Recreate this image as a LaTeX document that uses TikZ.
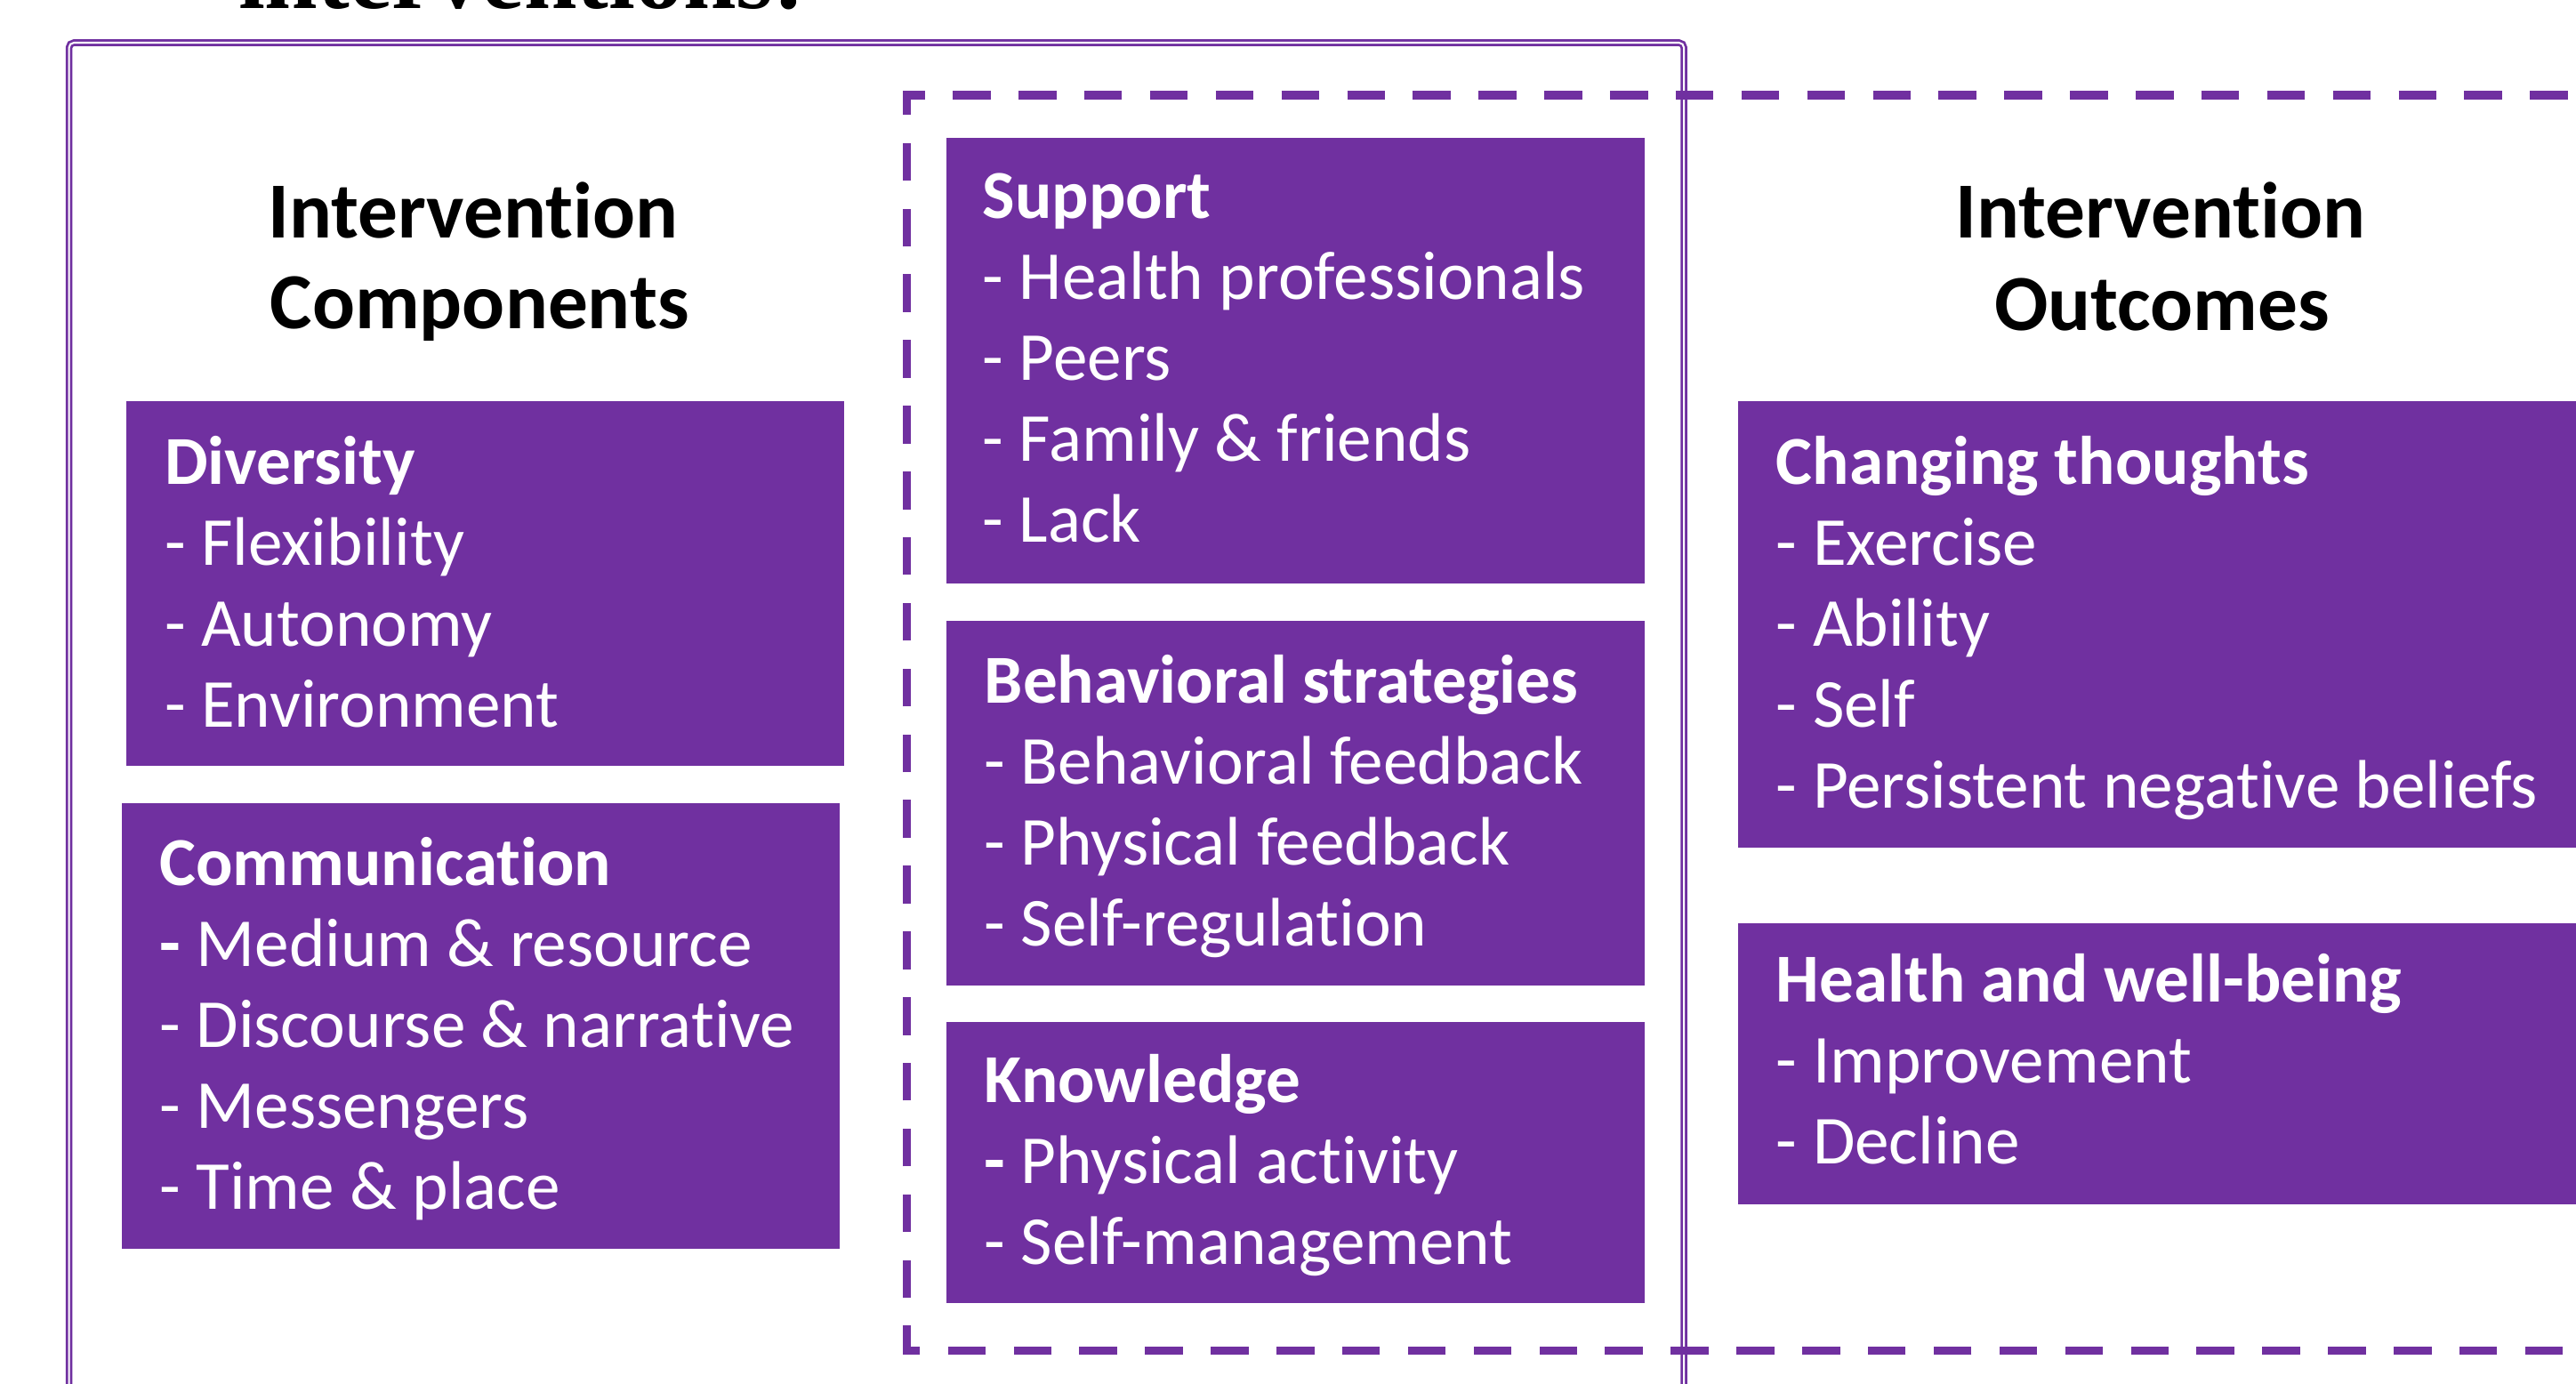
\documentclass[tikz,border=0pt]{standalone}
\usepackage{fontspec}
\setmainfont{Carlito}[Ligatures={NoCommon}]
\newfontfamily\titleserif{Liberation Serif}
\definecolor{ppl}{RGB}{112,48,160}
\tikzset{
  box/.style={fill=ppl, draw=none, anchor=north west, inner sep=0pt, outer sep=0pt},
  boxtext/.style={text=white, anchor=base west, inner sep=0pt, font=\fontsize{41.8}{49.25}\selectfont},
  header/.style={text=black, anchor=base, inner sep=0pt, font=\bfseries\fontsize{48.4}{55}\selectfont},
  outerframe/.style={draw=ppl, line width=1.5pt, double=white, double distance=1.1pt, rounded corners=3pt},
  dashframe/.style={draw=ppl, line width=5pt, dash pattern=on 23pt off 17pt},
}
\newcommand{\ttl}[1]{\hbox{\bfseries #1}}
\newcommand{\itm}[1]{\hbox{- #1}}
\newcommand{\bitm}[1]{\hbox{{\bfseries -} #1}}
\begin{document}
\begin{tikzpicture}[x=1pt,y=-1pt]
\useasboundingbox (0,0) rectangle (1568,842);
\clip (0,0) rectangle (1568,842);
\fill[white] (0,0) rectangle (1568,842);
% cut title
\node[anchor=base west, inner sep=0pt, font=\titleserif\bfseries\fontsize{58}{66}\selectfont] (ttl) at (145,5) {interventions:};
% frames
\coordinate (ofA) at (42,870);
\coordinate (ofB) at (42,26);
\coordinate (ofC) at (1025,26);
\coordinate (ofD) at (1025,870);
\draw[outerframe] (ofA) -- (ofB) -- (ofC) -- (ofD);
\coordinate (dfA) at (1600,822);
\coordinate (dfB) at (552,822);
\coordinate (dfC) at (552,58);
\coordinate (dfD) at (1600,58);
\draw[dashframe] (dfA) -- (dfB) -- (dfC) -- (dfD);
% headers
\node[header] (hc1) at (288,145) {Intervention};
\node[header] (hc2) at (292,200) {Components};
\node[header] (ho1) at (1315,145) {Intervention};
\node[header] (ho2) at (1316,201) {Outcomes};
% left column
\node[box, minimum width=437pt, minimum height=222pt] (div) at (77,244) {};
\node[boxtext] (divt) at ([xshift=23pt,yshift=-51pt]div.north west)
  {\vtop{\ttl{Diversity}\itm{Flexibility}\itm{Autonomy}\itm{Environment}}};
\node[box, minimum width=437pt, minimum height=271pt] (com) at (74,489) {};
\node[boxtext] (comt) at ([xshift=23pt,yshift=-50pt]com.north west)
  {\vtop{\ttl{Communication}\bitm{Medium \& resource}\itm{Discourse \& narrative}\itm{Messengers}\itm{Time \& place}}};
% middle column
\node[box, minimum width=425pt, minimum height=271pt] (sup) at (576,84) {};
\node[boxtext] (supt) at ([xshift=22pt,yshift=-49pt]sup.north west)
  {\vtop{\ttl{Support}\itm{Health professionals}\itm{Peers}\itm{Family \& friends}\itm{Lack}}};
\node[box, minimum width=425pt, minimum height=222pt] (beh) at (576,378) {};
\node[boxtext] (beht) at ([xshift=23pt,yshift=-50pt]beh.north west)
  {\vtop{\ttl{Behavioral strategies}\itm{Behavioral feedback}\itm{Physical feedback}\itm{Self-regulation}}};
\node[box, minimum width=425pt, minimum height=171pt] (kno) at (576,622) {};
\node[boxtext] (knot) at ([xshift=23pt,yshift=-49pt]kno.north west)
  {\vtop{\ttl{Knowledge}\bitm{Physical activity}\itm{Self-management}}};
% right column
\node[box, minimum width=540pt, minimum height=272pt] (chg) at (1058,244) {};
\node[boxtext] (chgt) at ([xshift=23pt,yshift=-51pt]chg.north west)
  {\vtop{\ttl{Changing thoughts}\itm{Exercise}\itm{Ability}\itm{Self}\itm{Persistent negative beliefs}}};
\node[box, minimum width=540pt, minimum height=171pt] (hea) at (1058,562) {};
\node[boxtext] (heat) at ([xshift=23pt,yshift=-48pt]hea.north west)
  {\vtop{\ttl{Health and well-being}\itm{Improvement}\itm{Decline}}};
\end{tikzpicture}
\end{document}
